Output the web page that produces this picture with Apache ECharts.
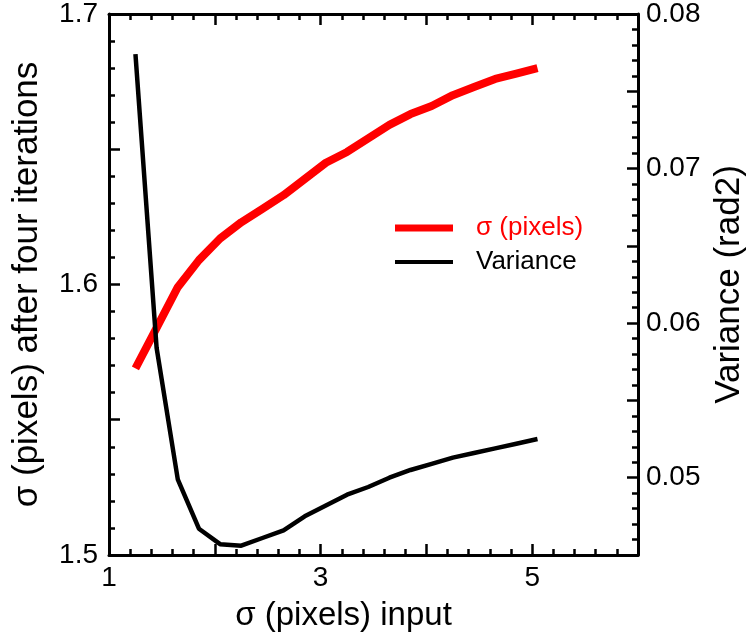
<!DOCTYPE html>
<html>
<head>
    <meta charset="utf-8">
    <title>sigma vs variance</title>
    <script src="https://cdn.jsdelivr.net/npm/echarts@6/dist/echarts.min.js"></script>
    <style>
        html, body { margin: 0; padding: 0; background: #fff; }
        #chart { width: 756px; height: 640px; }
    </style>
</head>
<body>
    <div id="chart"></div>
    <script>
        // sigma input (x), sampled every 0.2
        var sigmaInput = [1.25, 1.45, 1.65, 1.85, 2.05, 2.25, 2.45, 2.65, 2.85, 3.05,
                          3.25, 3.45, 3.65, 3.85, 4.05, 4.25, 4.45, 4.65, 4.85, 5.05];
        // sigma after four iterations (left axis)
        var sigmaOut = [1.569, 1.584, 1.599, 1.609, 1.617, 1.623, 1.628, 1.633, 1.639, 1.645,
                        1.649, 1.654, 1.659, 1.663, 1.666, 1.670, 1.673, 1.676, 1.678, 1.680];
        // variance (right axis)
        var variance = [0.0774, 0.0584, 0.0499, 0.0467, 0.0457, 0.0456, 0.0461, 0.0466, 0.0475, 0.0482,
                        0.0489, 0.0494, 0.0500, 0.0505, 0.0509, 0.0513, 0.0516, 0.0519, 0.0522, 0.0525];
        var xLabels = [1, 3, 5];

        var font = "'Liberation Sans', Arial, sans-serif";

        function pairs(xs, ys) {
            var out = [];
            for (var i = 0; i < xs.length; i++) out.push([xs[i], ys[i]]);
            return out;
        }

        function isMultiple(v, step) {
            var k = v / step;
            return Math.abs(k - Math.round(k)) < 1e-6;
        }

        var axisLine = { show: true, onZero: false, lineStyle: { color: '#000', width: 3 } };
        var tick = { show: true, inside: true, length: 11, lineStyle: { color: '#000', width: 2.5 } };
        var minor = { show: true, splitNumber: 5, length: 6, lineStyle: { color: '#000', width: 2.5 } };

        var option = {
            animation: false,
            backgroundColor: '#fff',
            textStyle: { fontFamily: font },
            grid: { left: 109, right: 118, top: 9, bottom: 85 },
            legend: {
                orient: 'vertical',
                left: 390,
                top: 210,
                itemWidth: 58,
                itemHeight: 14,
                itemGap: 8,
                textStyle: { fontSize: 26, fontFamily: font, color: '#000', padding: [0, 0, 0, 18] },
                data: [
                    { name: 'σ (pixels)', icon: 'path://M0,0 L58,0 L58,7 L0,7 Z', textStyle: { color: '#ff0000' } },
                    { name: 'Variance', icon: 'path://M0,0 L58,0 L58,4 L0,4 Z', textStyle: { color: '#000' } }
                ]
            },
            xAxis: [{
                type: 'value', min: 1, max: 6, interval: 1, position: 'bottom',
                axisLine: axisLine, axisTick: tick, minorTick: minor,
                splitLine: { show: false },
                axisLabel: {
                    fontSize: 28, color: '#000', margin: 9, fontFamily: font,
                    formatter: function (v) { return xLabels.indexOf(Math.round(v)) >= 0 && isMultiple(v, 1) ? String(Math.round(v)) : ''; }
                },
                name: 'σ (pixels) input', nameLocation: 'middle', nameGap: 44,
                nameTextStyle: { fontSize: 33, color: '#000', fontFamily: font, padding: [0, 60, 0, 0] }
            }, {
                type: 'value', min: 1, max: 6, interval: 1, position: 'top',
                axisLine: axisLine, axisTick: tick, minorTick: minor,
                splitLine: { show: false }, axisLabel: { show: false }
            }],
            yAxis: [{
                type: 'value', min: 1.5, max: 1.7, interval: 0.05, position: 'left',
                axisLine: axisLine, axisTick: tick, minorTick: minor,
                splitLine: { show: false },
                axisLabel: {
                    fontSize: 28, color: '#000', margin: 11, fontFamily: font,
                    formatter: function (v) { return isMultiple(v, 0.1) ? v.toFixed(1) : ''; }
                },
                name: 'σ (pixels) after four iterations', nameLocation: 'middle', nameRotate: 90, nameGap: 64,
                nameTextStyle: { fontSize: 35, color: '#000', fontFamily: font }
            }, {
                type: 'value', min: 0.045, max: 0.08, interval: 0.005, position: 'right',
                axisLine: axisLine, axisTick: tick, minorTick: minor,
                splitLine: { show: false },
                axisLabel: {
                    fontSize: 28, color: '#000', margin: 8, fontFamily: font,
                    formatter: function (v) { return isMultiple(v, 0.01) ? v.toFixed(2) : ''; }
                },
                name: 'Variance (rad2)', nameLocation: 'middle', nameRotate: 90, nameGap: 74,
                nameTextStyle: { fontSize: 35, color: '#000', fontFamily: font }
            }],
            series: [{
                name: 'σ (pixels)', type: 'line', yAxisIndex: 0,
                data: pairs(sigmaInput, sigmaOut),
                symbol: 'none', color: '#ff0000',
                lineStyle: { color: '#ff0000', width: 8 }
            }, {
                name: 'Variance', type: 'line', yAxisIndex: 1,
                data: pairs(sigmaInput, variance),
                symbol: 'none', color: '#000',
                lineStyle: { color: '#000', width: 4.5 }
            }]
        };

        var myChart = echarts.init(document.getElementById('chart'));
        myChart.setOption(option);
    </script>
</body>
</html>
